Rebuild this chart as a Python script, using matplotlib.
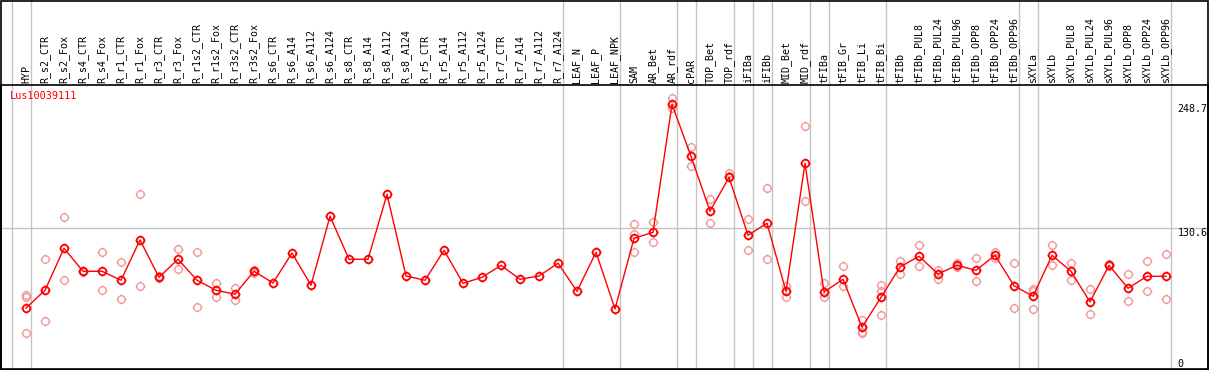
import matplotlib
matplotlib.use("Agg")
from matplotlib import pyplot as plt
from matplotlib.path import Path
from matplotlib.patches import Rectangle
import numpy as np

gene = "Lus10039111"

samples = ["HYP", "R_s2_CTR", "R_s2_Fox", "R_s4_CTR", "R_s4_Fox", "R_r1_CTR", "R_r1_Fox",
           "R_r3_CTR", "R_r3_Fox", "R_r1s2_CTR", "R_r1s2_Fox", "R_r3s2_CTR", "R_r3s2_Fox",
           "R_s6_CTR", "R_s6_A14", "R_s6_A112", "R_s6_A124", "R_s8_CTR", "R_s8_A14",
           "R_s8_A112", "R_s8_A124", "R_r5_CTR", "R_r5_A14", "R_r5_A112", "R_r5_A124",
           "R_r7_CTR", "R_r7_A14", "R_r7_A112", "R_r7_A124", "LEAF_N", "LEAF_P", "LEAF_NPK",
           "SAM", "AR_Bet", "AR_rdf", "cPAR", "TOP_Bet", "TOP_rdf", "iFIBa", "iFIBb",
           "MID_Bet", "MID_rdf", "tFIBa", "tFIB_Gr", "tFIB_Li", "tFIB_Bi", "tFIBb",
           "tFIBb_PUL8", "tFIBb_PUL24", "tFIBb_PUL96", "tFIBb_OPP8", "tFIBb_OPP24",
           "tFIBb_OPP96", "sXYLa", "sXYLb", "sXYLb_PUL8", "sXYLb_PUL24", "sXYLb_PUL96",
           "sXYLb_OPP8", "sXYLb_OPP24", "sXYLb_OPP96"]

# mean expression per sample
means = [53.6, 70.6, 110.8, 88.8, 88.8, 80.2, 118.8, 83.0, 100.3, 80.2, 70.6, 66.8, 88.8,
         77.6, 106.3, 75.4, 141.5, 100.3, 100.3, 162.5, 84.3, 80.2, 108.9, 77.3, 83.0,
         94.5, 81.1, 84.3, 96.5, 69.6, 107.0, 52.7,
         120.4, 126.1, 248.7, 198.9, 146.3, 178.8, 123.3, 134.8, 69.6, 192.2, 69.0, 81.1,
         35.2, 63.9, 92.9, 103.2, 86.2, 94.5, 89.7, 104.1, 75.0, 64.8, 104.1, 88.8, 59.4,
         94.5, 72.5, 84.0, 84.0]

# individual replicates (empty where only one sample)
reps = [[66.1, 64.5, 29.4], [100.3, 41.2], [140.5, 80.2], [88.0, 89.5], [107.0, 70.6],
        [97.4, 62.0], [162.5, 74.4], [84.3, 81.9], [109.9, 90.7], [107.0, 54.3],
        [77.3, 63.9], [72.5, 61.0], [90.0, 86.9],
        [], [], [], [], [], [], [], [], [], [], [], [], [], [], [], [], [], [], [],
        [134.1, 124.5, 107.0], [135.7, 116.6], [254.8, 244.9], [207.6, 189.4],
        [157.8, 134.8], [182.7, 180.1], [138.6, 108.9], [168.3, 100.3], [74.7, 63.9],
        [227.7, 155.8], [77.3, 64.5], [93.6, 74.7], [42.1, 30.9, 29.3],
        [75.4, 69.6, 46.6], [98.4, 86.5], [113.7, 93.6], [90.0, 81.7], [97.0, 93.0],
        [101.2, 79.2], [107.3, 101.5], [96.5, 53.3], [71.6, 70.0, 52.4], [113.7, 94.5],
        [96.7, 80.8], [71.6, 47.6], [95.5, 93.5], [85.9, 60.1], [98.4, 69.6],
        [105.1, 62.0]]

# group separators sit just right of these sample indices
separators = [-1, 0, 28, 31, 34, 35, 37, 38, 39, 41, 42, 45, 52, 53, 60]

ymax_label = 248.7
ymid_label = 130.6

# circle with four little ticks, like the original marker
circ = Path.circle((0, 0), 1.0)
ticks = []
for a in range(4):
    ang = a * np.pi / 2
    ticks.append(Path([(np.cos(ang), np.sin(ang)), (1.3 * np.cos(ang), 1.3 * np.sin(ang))],
                      [Path.MOVETO, Path.LINETO]))
marker = Path.make_compound_path(circ, *ticks)

fig = plt.figure(figsize=(12.09, 3.70), dpi=100)
ax = fig.add_axes([1 / 1209, 1 / 370, 1207 / 1209, 284 / 370])
ax.set_xlim(-1.316, 62.21)
ax.set_ylim(-4.8, 267.2)
ax.set_xticks([])
ax.set_yticks([])
for s in ax.spines.values():
    s.set_color("black")
    s.set_linewidth(1.2)

x = np.arange(len(samples))
mono = "DejaVu Sans Mono"

ax.axhline(ymid_label, color="#c4c4c4", lw=1, zorder=1)
for s in separators:
    ax.axvline(s + 0.24, ymin=0, ymax=370 / 284, color="#c4c4c4", lw=1, clip_on=False, zorder=1)

for i, r in enumerate(reps):
    if r:
        ax.plot([i] * len(r), r, linestyle="none", marker=marker, markersize=7,
                markerfacecolor="none", markeredgecolor="#f09a9a", markeredgewidth=1.0, zorder=2)

ax.plot(x, means, color="red", lw=1, zorder=3)
ax.plot(x, means, linestyle="none", marker=marker, markersize=7, markerfacecolor="none",
        markeredgecolor="red", markeredgewidth=1.3, zorder=4)

lab_tr = ax.get_xaxis_transform()
for i, name in enumerate(samples):
    ax.text(i, 1 + 2 / 284, name, rotation=90, ha="center", va="bottom", fontsize=7.2,
            family=mono, transform=lab_tr, clip_on=False)

ax.text(-0.85, 1 - 6 / 284, gene, color="red", fontsize=7.4, family=mono,
        ha="left", va="top", transform=lab_tr)

for v, va in [(ymax_label, "top"), (ymid_label, "top"), (0, "center")]:
    ax.text(60.6, v, str(v) if v else "0", fontsize=7.2, family=mono, ha="left", va=va)

fig.patches.append(Rectangle((0.5 / 1209, 0.5 / 370), 1207.5 / 1209, 369 / 370,
                             transform=fig.transFigure, fill=False, edgecolor="black", lw=1.2))

fig.savefig("out.png", dpi=100)
